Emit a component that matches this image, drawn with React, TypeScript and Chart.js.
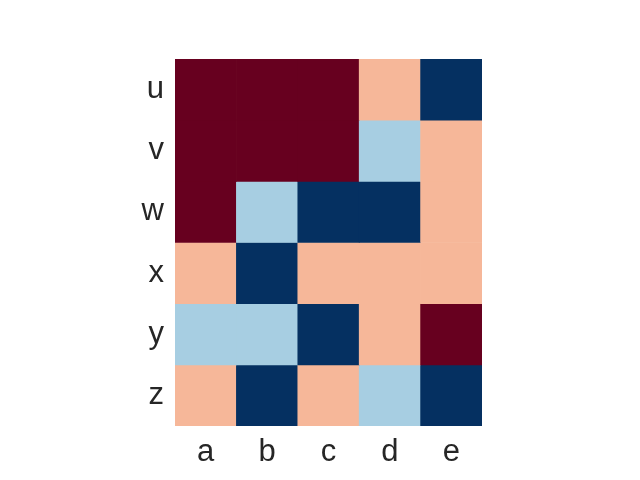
import React, { useEffect, useRef } from "react";
import { Chart, registerables } from "chart.js";

Chart.register(...registerables);

const columns = ["a", "b", "c", "d", "e"];
const rows = ["u", "v", "w", "x", "y", "z"];
// level per cell: 0 = dark blue, 1 = light blue, 2 = salmon, 3 = dark red
const rowU = [3, 3, 3, 2, 0];
const rowV = [3, 3, 3, 1, 2];
const rowW = [3, 1, 0, 0, 2];
const rowX = [2, 0, 2, 2, 2];
const rowY = [1, 1, 0, 2, 3];
const rowZ = [2, 0, 2, 1, 0];
const rowValues = [rowU, rowV, rowW, rowX, rowY, rowZ];
const levelColors = ["#053061", "#a7cee2", "#f6b799", "#67001f"];

export default function App() {
  const ref = useRef<HTMLCanvasElement | null>(null);
  useEffect(() => {
    document.body.style.margin = "0";
    const n = rows.length;
    const datasets = rows.map((r, i) => {
      const bottom = n - 1 - i;
      return {
        label: r,
        data: rowValues[i].map(() => [bottom, bottom + 1]),
        backgroundColor: rowValues[i].map((v) => levelColors[v]),
        borderWidth: 0,
        barPercentage: 1,
        categoryPercentage: 1,
        grouped: false,
      };
    });
    const chart = new Chart(ref.current as HTMLCanvasElement, {
      type: "bar",
      data: { labels: columns, datasets: datasets as any },
      options: {
        animation: false,
        responsive: false,
        maintainAspectRatio: false,
        layout: { padding: { top: 59, right: 158, left: 0, bottom: 0 } },
        plugins: { legend: { display: false }, tooltip: { enabled: false } },
        scales: {
          x: {
            grid: { display: false, drawTicks: false },
            border: { display: false },
            ticks: {
              color: "#262626",
              padding: 8,
              font: { family: "'Liberation Sans', Arial, sans-serif", size: 31 },
            },
            afterFit: (s: any) => {
              s.height = 54;
            },
          },
          y: {
            min: 0,
            max: n,
            grid: { display: false, drawTicks: false },
            border: { display: false },
            afterBuildTicks: (s: any) => {
              s.ticks = rows.map((_, i) => ({ value: i + 0.5 }));
            },
            ticks: {
              color: "#262626",
              padding: 11,
              font: { family: "'Liberation Sans', Arial, sans-serif", size: 31 },
              callback: (v: any) => rows[n - 1 - Math.floor(Number(v))],
            },
            afterFit: (s: any) => {
              s.width = 175;
            },
          },
        },
      },
    });
    return () => chart.destroy();
  }, []);
  return (
    <div style={{ width: 640, height: 480 }}>
      <canvas ref={ref} width={640} height={480} />
    </div>
  );
}
